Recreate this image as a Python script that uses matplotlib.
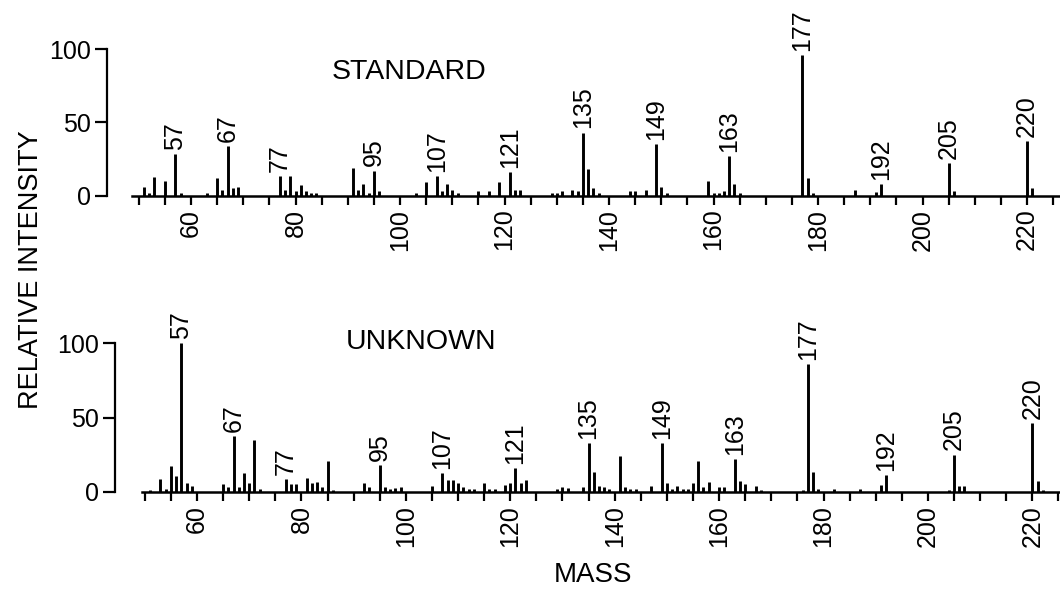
import matplotlib
matplotlib.use("Agg")
import matplotlib.pyplot as plt
from matplotlib.ticker import MultipleLocator

plt.rcParams['font.family'] = ['Liberation Sans', 'DejaVu Sans']

# STANDARD spectrum (mass, relative intensity)
std_mass = [51, 52, 53, 55, 57, 58, 63, 65, 66, 67, 68, 69, 77, 78, 79, 80, 81, 82, 83, 84,
            91, 92, 93, 94, 95, 96, 103, 105, 107, 108, 109, 110, 111, 115, 117, 119, 121, 122, 123,
            129, 130, 131, 133, 134, 135, 136, 137, 138, 144, 145, 147, 149, 150, 151,
            159, 160, 161, 162, 163, 164, 165, 177, 178, 179, 187, 191, 192, 205, 206, 220, 221]
std_int = [6, 2, 12.5, 10, 28.5, 2, 1.5, 12, 4, 34, 5, 6, 13, 4, 13, 3, 7.5, 3, 2, 1.5,
           19, 4, 8, 2, 17, 3, 2, 9.5, 13, 3, 8, 4, 1.5, 3, 3, 9.5, 16, 4, 4,
           1.5, 1.5, 3, 4, 3, 43, 18, 5, 2, 3, 3, 4, 35, 5.5, 2,
           10, 1.5, 1.5, 3, 27, 8, 2, 96, 12, 2, 4, 2.5, 8, 22, 3, 37, 5]

# UNKNOWN spectrum
unk_mass = [51, 53, 54, 55, 56, 57, 58, 59, 65, 66, 67, 68, 69, 70, 71, 72, 77, 78, 79, 81, 82, 83, 84,
            85, 86, 92, 93, 95, 96, 97, 98, 99, 105, 107, 108, 109, 110, 111, 112, 113, 115, 116, 117,
            119, 120, 121, 122, 123, 129, 130, 131, 134, 135, 136, 137, 138, 139, 141, 142, 143, 144,
            147, 149, 150, 151, 152, 153, 154, 155, 156, 157, 158, 160, 161, 163, 164, 165, 167, 168,
            176, 177, 178, 179, 182, 187, 191, 192, 204, 205, 206, 207, 220, 221, 222]
unk_int = [1, 8.5, 2, 17, 10.5, 100, 6, 4, 5, 3, 37.5, 3, 12.5, 6, 35, 2, 8.5, 5, 5, 9.5, 6, 6.5, 3,
           21, 1, 6, 3, 18, 3, 2, 2.5, 3, 4, 12.5, 8, 8, 6, 3, 2, 2, 6, 1.5, 1.5,
           4.5, 6, 16, 6, 8, 2, 3, 2.5, 3, 32.5, 13.5, 4, 3, 2, 24, 3, 2, 1.5,
           4, 32.5, 6, 2, 4, 2, 2, 6, 21, 3, 6.5, 3, 3, 22, 7, 5, 4, 1,
           1, 86, 13.5, 2, 2, 2, 4.5, 11, 1, 25, 4, 4, 46, 7, 1]

peak_labels = [57, 67, 77, 95, 107, 121, 135, 149, 163, 177, 192, 205, 220]
x_ticks = [60, 80, 100, 120, 140, 160, 180, 200, 220]
y_ticks = [0, 50, 100]

W, H = 1060, 591
fig = plt.figure(figsize=(W / 100, H / 100), dpi=100)


def panel(rect, xlim, spine_out, masses, ints, title, title_xy):
    x0, y_base, y_top = rect
    ax = fig.add_axes([x0 / W, (H - y_base) / H, (W - x0) / W, (y_base - y_top) / H])
    ax.vlines(masses, 0, ints, color='black', linewidth=2.1)
    ax.set_xlim(*xlim)
    ax.set_ylim(0, 100)
    for s in ['top', 'right']:
        ax.spines[s].set_visible(False)
    ax.spines['bottom'].set_linewidth(1.8)
    ax.spines['left'].set_linewidth(1.6)
    ax.spines['left'].set_position(('outward', spine_out))
    ax.spines['left'].set_bounds(0, 100)
    ax.set_xticks(x_ticks)
    ax.set_xticklabels([str(t) for t in x_ticks], rotation=90, fontsize=18)
    ax.xaxis.set_minor_locator(MultipleLocator(5))
    ax.tick_params(axis='x', which='both', direction='out', length=6.5, width=1.6, pad=3)
    ax.set_yticks(y_ticks)
    ax.set_yticklabels([str(t) for t in y_ticks], fontsize=18)
    ax.tick_params(axis='y', direction='out', length=8.5, width=1.6, pad=3)
    ax.patch.set_alpha(0)
    lookup = dict(zip(masses, ints))
    for m in peak_labels:
        ax.annotate(str(m), (m, lookup[m]), xytext=(0, 3), textcoords='offset points',
                    rotation=90, ha='center', va='bottom', fontsize=18,
                    annotation_clip=False)
    fig.text(title_xy[0] / W, 1 - title_xy[1] / H, title, fontsize=20.5,
             ha='center', va='center')
    return ax


panel((132, 195.5, 49.3), (48.7, 226.3), 18, std_mass, std_int, 'STANDARD', (409, 72))
panel((141.7, 491.7, 343.3), (49.4, 225.3), 19.2, unk_mass, unk_int, 'UNKNOWN', (421, 342))

fig.text(31 / W, 1 - 270 / H, 'RELATIVE INTENSITY', rotation=90, fontsize=19.5,
         ha='center', va='center')
fig.text(593 / W, 1 - 575 / H, 'MASS', fontsize=20, ha='center', va='center')

fig.savefig('out.png', dpi=100)
